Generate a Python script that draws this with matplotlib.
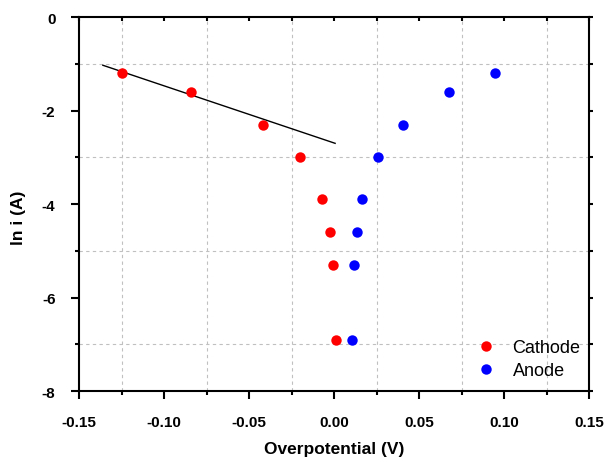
import matplotlib
matplotlib.use("Agg")
import matplotlib.pyplot as plt
from matplotlib.ticker import MultipleLocator, FormatStrFormatter

plt.rcParams["font.family"] = ["Liberation Sans", "DejaVu Sans"]

# =====================================================
# Data
# =====================================================

cathode_x = [-0.125, -0.084, -0.042, -0.020, -0.007, -0.0025, -0.0005, 0.0012]
cathode_y = [-1.2, -1.6, -2.3, -3.0, -3.9, -4.6, -5.3, -6.9]

anode_x = [0.0945, 0.0676, 0.0404, 0.0257, 0.0167, 0.0137, 0.0118, 0.0106]
anode_y = [-1.2, -1.6, -2.3, -3.0, -3.9, -4.6, -5.3, -6.9]

fit_x = [-0.136, 0.0006]
fit_y = [-1.03, -2.70]

# =====================================================
# Figure
# =====================================================

fig = plt.figure(figsize=(6.08, 4.64), dpi=100)
ax = fig.add_axes([0.130, 0.155, 0.839, 0.806])

ax.plot(fit_x, fit_y, color="black", linewidth=1.0)
ax.plot(cathode_x, cathode_y, "o", color="#ff0000", markersize=7.5,
        markeredgewidth=0, label="Cathode")
ax.plot(anode_x, anode_y, "o", color="#0000ff", markersize=7.5,
        markeredgewidth=0, label="Anode")

ax.set_xlim(-0.15, 0.15)
ax.set_ylim(-8, 0)

ax.xaxis.set_major_locator(MultipleLocator(0.05))
ax.xaxis.set_minor_locator(MultipleLocator(0.025))
ax.yaxis.set_major_locator(MultipleLocator(2))
ax.yaxis.set_minor_locator(MultipleLocator(1))
ax.xaxis.set_major_formatter(FormatStrFormatter("%.2f"))
ax.yaxis.set_major_formatter(FormatStrFormatter("%d"))

# grid only on the minor positions
ax.grid(which="minor", color="#c0c0c0", linestyle=(0, (3, 3)), linewidth=0.8)
ax.grid(which="major", visible=False)
ax.set_axisbelow(True)

for s in ax.spines.values():
    s.set_linewidth(1.5)

ax.tick_params(axis="both", which="major", direction="out", length=6,
               width=1.5, pad=11, labelsize=11)
ax.tick_params(axis="both", which="minor", direction="out", length=3, width=1.5)
ax.tick_params(top=True, right=True, which="both")
# small inward ticks on top and right
for t in ax.xaxis.get_major_ticks() + ax.xaxis.get_minor_ticks():
    t.tick2line.set_markersize(3)
    t.tick2line.set_marker(3)
for t in ax.yaxis.get_major_ticks() + ax.yaxis.get_minor_ticks():
    t.tick2line.set_markersize(3)
    t.tick2line.set_marker(1)

for lab in ax.get_xticklabels() + ax.get_yticklabels():
    lab.set_fontweight("bold")

ax.set_xlabel("Overpotential (V)", fontsize=12.5, fontweight="bold", labelpad=9)
ax.set_ylabel("ln i (A)", fontsize=12.5, fontweight="bold")
ax.yaxis.set_label_coords(-0.104, 0.465)

ax.legend(loc="lower right", bbox_to_anchor=(1.008, -0.002), frameon=False,
          fontsize=13, handlelength=1.0, handletextpad=0.95,
          labelspacing=0.35, borderaxespad=0.3)

plt.savefig("out.png", dpi=100)
